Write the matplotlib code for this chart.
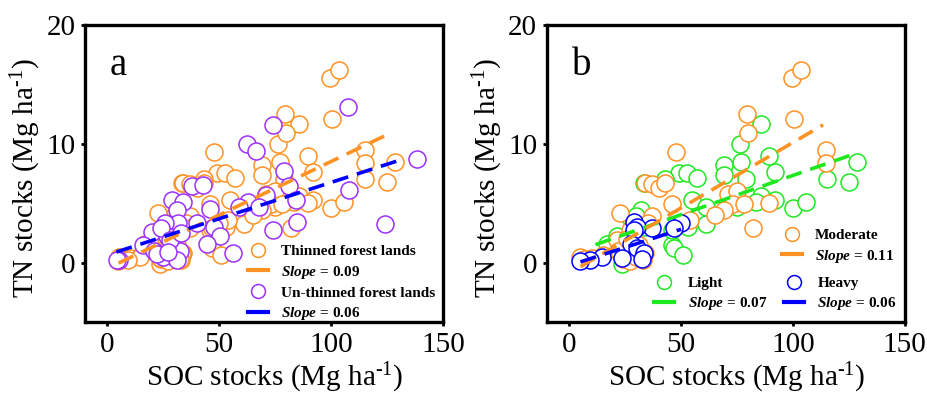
import matplotlib
matplotlib.use("Agg")
import matplotlib.pyplot as plt
from matplotlib.lines import Line2D
import numpy as np

plt.rcParams['font.family'] = ['Liberation Serif', 'DejaVu Serif']
plt.rcParams['mathtext.fontset'] = 'custom'
plt.rcParams['mathtext.rm'] = 'Liberation Serif'
plt.rcParams['mathtext.it'] = 'Liberation Serif:italic:bold'

# thinning intensity groups (panel b); thinned lands in panel a = all three
light_soc = [85.8, 76.5, 77, 69.3, 69.3, 79, 89.5, 91.8, 128.7, 115.3, 125, 100, 106, 85.8,
             83.5, 91.8, 75, 55, 61, 61, 49, 52.8, 57, 43, 33.4, 46, 47, 51, 46, 53, 32,
             27.4, 17, 23.6, 30, 33.4, 21.4]
light_tn = [11.7, 10.0, 8.5, 8.2, 7.4, 7.0, 9.0, 7.6, 8.5, 7.0, 6.8, 4.6, 5.1, 5.6,
            5.1, 5.3, 4.7, 5.3, 4.7, 3.2, 7.5, 7.5, 7.1, 7.0, 6.7, 1.5, 1.2, 0.6, 2.7, 3.0, 4.4,
            3.7, 1.6, -0.1, 3.9, 3.0, 2.2]

moderate_soc = [99.5, 103.4, 100.3, 79.3, 79.8, 47.6, 115, 115, 34, 37, 40, 43, 46, 71, 75,
                73, 78, 69, 65, 89.5, 54, 37, 22.5, 21.5, 27, 24, 27, 30, 33, 34, 22, 26,
                31, 35, 5, 6.4, 10, 15, 82]
moderate_tn = [15.5, 16.2, 12.1, 12.5, 10.9, 9.3, 9.5, 8.4, 6.7, 6.6, 6.3, 6.7, 4.9, 5.8, 6.0,
               4.9, 4.9, 4.4, 4.0, 5.0, 3.6, 3.9, 4.2, 1.9, 2.7, 0.3, 0.1, 0.5, 0.2, 0.8, 1.0, 2.0,
               1.5, 3.3, 0.5, 0.3, 0.4, 0.6, 2.9]

heavy_soc = [50, 47, 37, 29, 30.4, 29, 27.4, 30.4, 33.4, 32.3, 23.7, 14.7, 9.4, 4.6]
heavy_tn = [3.3, 2.9, 2.9, 3.4, 3.0, 2.7, 1.6, 1.2, 0.8, 0.3, 0.4, 0.5, 0.25, 0.1]

unthinned_soc = [107.5, 74, 62.4, 66.6, 138.5, 78.8, 81, 108, 84.5, 71, 63, 67.6, 59, 46, 38,
                 42.7, 29, 34, 31, 84.8, 74, 124, 47.5, 50.5, 44.5, 56, 40, 31.8, 25.8, 19.9,
                 16, 26.6, 21, 25, 32.5, 31, 5, 4.2, 24, 28, 33, 22, 27]
unthinned_tn = [13.1, 11.6, 10.0, 9.4, 8.7, 7.7, 6.4, 6.1, 5.3, 5.7, 5.1, 4.7, 4.7, 4.5, 6.4,
                6.5, 5.3, 5.1, 4.4, 3.4, 2.7, 3.2, 3.0, 2.2, 1.6, 0.8, 3.3, 3.3, 3.3, 2.6,
                1.5, 2.2, 1.0, 0.5, 1.0, 0.2, 0.25, 0.2, 2.9, 1.9, 2.5, 0.7, 0.9]

thinned_soc = light_soc + moderate_soc + heavy_soc
thinned_tn = light_tn + moderate_tn + heavy_tn

# regression lines: slope, intercept, x range
fit_thinned = (0.09, -0.5, 5, 124)
fit_unthinned = (0.061, 0.64, 4, 133)
fit_moderate = (0.11, -0.9, 5, 113.5)
fit_light = (0.066, 0.73, 11.7, 126)
fit_heavy = (0.061, -0.25, 5, 50)

ORANGE = '#FF9224'
PURPLE = '#9B30FF'
GREEN = '#1EE81E'
BLUE = '#0000FF'
DASH = (0, (4.5, 2.5))
UNIT = '(Mg ha$^{\\text{-1}}$)'


def scatter_fit(ax, x, y, fit, color, line_color=None):
    ax.scatter(x, y, s=150, facecolors='white', edgecolors=color, linewidths=1.1)
    a, b, x0, x1 = fit
    xs = np.array([x0, x1])
    ax.plot(xs, a * xs + b, color=line_color or color, lw=2.6, linestyle=DASH)


def style_axes(ax, letter):
    ax.set_xlim(-10, 150)
    ax.set_ylim(-5, 20)
    ax.set_xticks([0, 50, 100, 150])
    ax.set_yticks([0, 10, 20])
    for sp in ax.spines.values():
        sp.set_linewidth(2.4)
    ax.tick_params(direction='out', length=3, width=2, labelsize=21, pad=4)
    ax.set_xlabel('SOC stocks ' + UNIT, fontsize=21, labelpad=2)
    ax.set_ylabel('TN stocks ' + UNIT, fontsize=21, labelpad=2)
    ax.xaxis.label.set_x(0.53)
    ax.yaxis.label.set_y(0.485)
    ax.text(0.07, 0.832, letter, transform=ax.transAxes, fontsize=28,
            va='baseline', ha='left')


def pt(color):
    return Line2D([], [], marker='o', linestyle='none', markersize=10,
                  markerfacecolor='none', markeredgecolor=color, markeredgewidth=1.1)


def ln(color):
    return Line2D([], [], color=color, lw=3)


fig = plt.figure(figsize=(9.27, 3.95), dpi=100)
ax1 = fig.add_axes([0.0917, 0.185, 0.386, 0.752])
ax2 = fig.add_axes([0.590, 0.185, 0.386, 0.752])

leg_kw = dict(frameon=False, prop={'weight': 'bold', 'size': 11}, handlelength=1.3,
              handletextpad=0.9, labelspacing=0.35, borderpad=0, borderaxespad=0)

# panel a
scatter_fit(ax1, thinned_soc, thinned_tn, fit_thinned, ORANGE)
scatter_fit(ax1, unthinned_soc, unthinned_tn, fit_unthinned, PURPLE, BLUE)
style_axes(ax1, 'a')
ax1.legend([pt(ORANGE), ln(ORANGE), pt(PURPLE), ln(BLUE)],
           ['Thinned forest lands', '$\\mathit{Slope}$ = 0.09',
            'Un-thinned forest lands', '$\\mathit{Slope}$ = 0.06'],
           loc='lower left', bbox_to_anchor=(0.455, 0.0), **leg_kw)

# panel b
scatter_fit(ax2, light_soc, light_tn, fit_light, GREEN)
scatter_fit(ax2, moderate_soc, moderate_tn, fit_moderate, ORANGE)
scatter_fit(ax2, heavy_soc, heavy_tn, fit_heavy, BLUE)
style_axes(ax2, 'b')
leg1 = ax2.legend([pt(ORANGE), ln(ORANGE)], ['Moderate', '$\\mathit{Slope}$ = 0.11'],
                  loc='lower left', bbox_to_anchor=(0.656, 0.193), **leg_kw)
ax2.add_artist(leg1)
ax2.legend([pt(GREEN), ln(GREEN), pt(BLUE), ln(BLUE)],
           ['Light', '$\\mathit{Slope}$ = 0.07', 'Heavy', '$\\mathit{Slope}$ = 0.06'],
           ncol=2, columnspacing=1.1, loc='lower left', bbox_to_anchor=(0.299, 0.032), **leg_kw)

fig.savefig('out.png', dpi=100)
